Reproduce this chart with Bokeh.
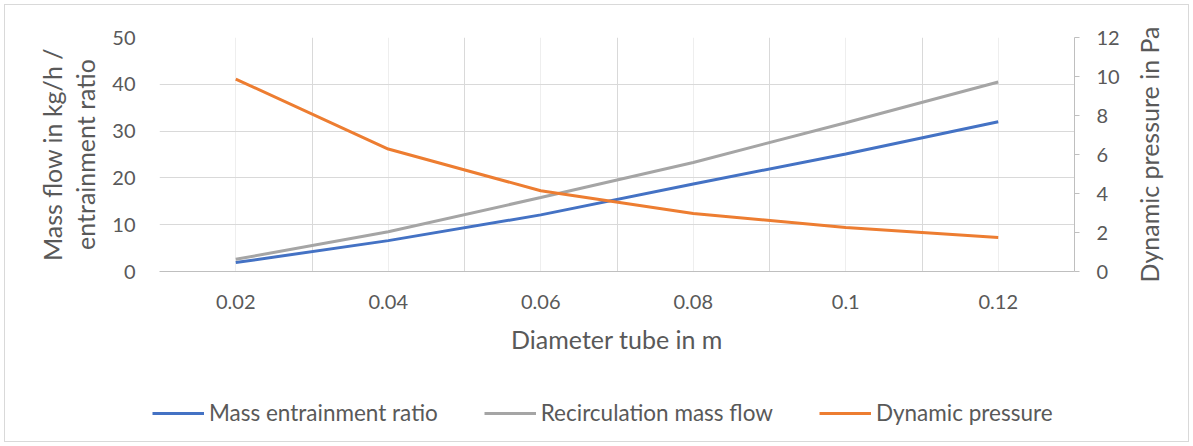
from bokeh.plotting import figure
from bokeh.layouts import column, row
from bokeh.models import (Range1d, LinearAxis, FixedTicker, Legend, LegendItem)
from bokeh.embed import file_html
from bokeh.resources import INLINE

diameters = [0.02, 0.04, 0.06, 0.08, 0.10, 0.12]
tick_labels = ["0.02", "0.04", "0.06", "0.08", "0.1", "0.12"]
mass_entrainment_ratio = [1.9, 6.6, 12.1, 18.7, 25.1, 32.0]
recirculation_mass_flow = [2.6, 8.5, 15.8, 23.3, 31.8, 40.5]
dynamic_pressure = [9.87, 6.28, 4.14, 2.97, 2.26, 1.74]

FONT = "Lato"
TXT = "#595959"
blue, grey, orange = "#4472c4", "#a5a5a5", "#ed7d31"

OFF = 5  # chart-area border offset
W, H1, H2 = 1183, 375, 61
W1 = 1125          # main figure width
W2 = W - W1        # right title strip
FL, FT, FR, FB = 159 - OFF, 37 - OFF, 1074 - OFF, 271 - OFF  # frame edges, local px
p = figure(width=W1, height=H1, output_backend="svg", toolbar_location=None,
           x_range=Range1d(0.01, 0.13), y_range=Range1d(0, 50),
           min_border_left=FL, min_border_right=W1 - FR, min_border_top=FT, min_border_bottom=H1 - FB)
p.extra_y_ranges = {"pa": Range1d(0, 12)}

r1 = p.line(diameters, mass_entrainment_ratio, line_color=blue, line_width=3)
r2 = p.line(diameters, recirculation_mass_flow, line_color=grey, line_width=3)
r3 = p.line(diameters, dynamic_pressure, line_color=orange, line_width=3, y_range_name="pa")

p.outline_line_color = None
xa = p.xaxis[0]
xa.ticker = FixedTicker(ticks=diameters)
xa.major_label_overrides = {d: t for d, t in zip(diameters, tick_labels)}
xa.major_tick_line_color = None
xa.minor_tick_line_color = None
xa.axis_line_color = "#bfbfbf"
xa.major_label_text_font = FONT
xa.major_label_text_font_size = "20px"
xa.major_label_text_color = TXT
xa.major_label_standoff = 17
xa.axis_label = "Diameter tube in m"
xa.axis_label_text_font = FONT
xa.axis_label_text_font_size = "25px"
xa.axis_label_text_font_style = "normal"
xa.axis_label_text_color = TXT
xa.axis_label_standoff = 12

p.xgrid.ticker = FixedTicker(ticks=[0.01, 0.03, 0.05, 0.07, 0.09, 0.11, 0.13], minor_ticks=diameters)
p.xgrid.grid_line_color = "#d9d9d9"
p.xgrid.minor_grid_line_color = "#eeeeee"
p.ygrid.ticker = FixedTicker(ticks=[0, 10, 20, 30, 40, 50])
p.ygrid.grid_line_color = "#d9d9d9"

ya = p.yaxis[0]
ya.ticker = FixedTicker(ticks=[0, 10, 20, 30, 40, 50])
ya.axis_line_color = None
ya.major_tick_line_color = None
ya.minor_tick_line_color = None
ya.major_label_text_font = FONT
ya.major_label_text_font_size = "20px"
ya.major_label_text_color = TXT
ya.major_label_standoff = 18
ya.axis_label = "Mass flow in kg/h /\nentrainment ratio"
ya.axis_label_text_font = FONT
ya.axis_label_text_font_size = "25px"
ya.axis_label_text_font_style = "normal"
ya.axis_label_text_color = TXT
ya.axis_label_text_line_height = 1.12
ya.axis_label_standoff = 9

ax2 = LinearAxis(y_range_name="pa", ticker=FixedTicker(ticks=[0, 2, 4, 6, 8, 10, 12]))
ax2.axis_line_color = "#bfbfbf"
ax2.major_tick_line_color = "#bfbfbf"
ax2.major_tick_out = 5
ax2.major_tick_in = 0
ax2.minor_tick_line_color = None
ax2.major_label_text_font = FONT
ax2.major_label_text_font_size = "20px"
ax2.major_label_text_color = TXT
ax2.major_label_standoff = 17
p.add_layout(ax2, "right")

# narrow strip on the right carrying the secondary axis title (reads bottom-to-top)
rt = figure(width=W2, height=H1, output_backend="svg", toolbar_location=None,
            x_range=Range1d(0, 1), y_range=Range1d(0, 12), x_axis_type=None,
            min_border_left=36, min_border_right=0, min_border_top=FT, min_border_bottom=H1 - FB)
rt.outline_line_color = None
rt.grid.visible = False
rya = rt.yaxis[0]
rya.ticker = FixedTicker(ticks=[])
rya.axis_line_color = None
rya.major_tick_out = 0
rya.major_tick_in = 0
rya.major_label_standoff = 0
rya.axis_label = "Dynamic pressure in Pa"
rya.axis_label_text_font = FONT
rya.axis_label_text_font_size = "25px"
rya.axis_label_text_font_style = "normal"
rya.axis_label_text_color = TXT
rya.axis_label_standoff = 7

# legend strip below the chart
q = figure(width=W, height=H2, output_backend="svg", toolbar_location=None,
           x_range=Range1d(1, 2), y_range=Range1d(0, 1),
           x_axis_type=None, y_axis_type=None, min_border=0)
q.outline_line_color = None
q.grid.visible = False
l1 = q.line(diameters, mass_entrainment_ratio, line_color=blue, line_width=3)
l2 = q.line(diameters, recirculation_mass_flow, line_color=grey, line_width=3)
l3 = q.line(diameters, dynamic_pressure, line_color=orange, line_width=3)
legend = Legend(items=[LegendItem(label="Mass entrainment ratio", renderers=[l1]),
                       LegendItem(label="Recirculation mass flow", renderers=[l2]),
                       LegendItem(label="Dynamic pressure", renderers=[l3])],
                orientation="horizontal", location=(147, 15),
                glyph_width=52, label_text_font=FONT, label_text_font_size="22.5px",
                label_text_color=TXT, border_line_color=None, background_fill_alpha=0,
                spacing=46, label_standoff=5, padding=0, margin=0)
q.add_layout(legend, "center")

lay = column(row(p, rt, spacing=0), q, spacing=0,
             styles={"border": "1px solid #d9d9d9", "margin": "4px 0 0 4px"})
open("out.html", "w").write(file_html(lay, INLINE))
